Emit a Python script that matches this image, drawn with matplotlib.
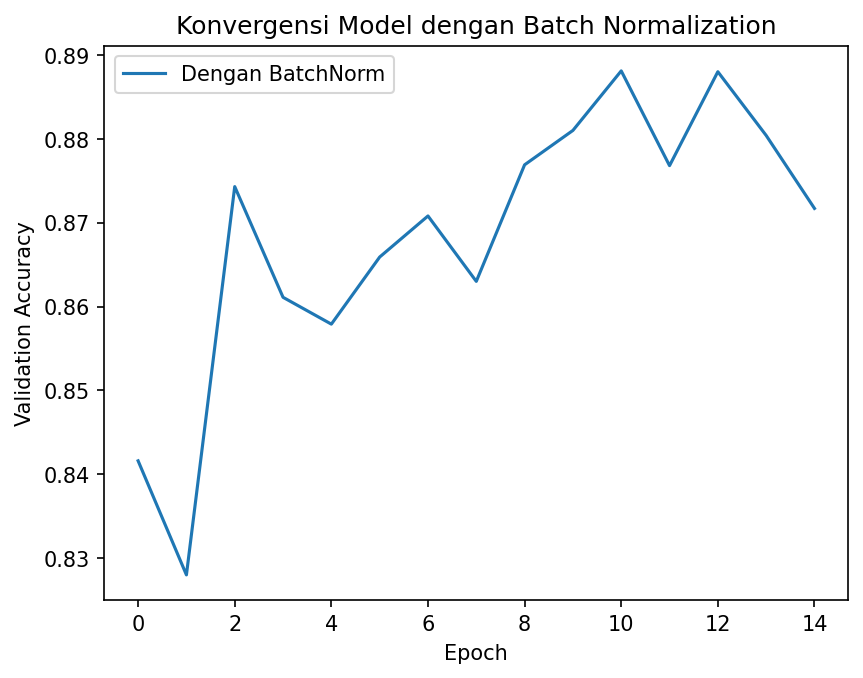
import matplotlib
matplotlib.use('Agg')
from matplotlib import pyplot as plt

epochs = list(range(15))
val_acc = [0.8416, 0.8280, 0.8743, 0.8611, 0.8579, 0.8659, 0.8708, 0.8630,
           0.8769, 0.8810, 0.8881, 0.8768, 0.8880, 0.8804, 0.8717]

fig, ax = plt.subplots(figsize=(6.4, 4.8))
ax.plot(epochs, val_acc, label='Dengan BatchNorm')
ax.set_title('Konvergensi Model dengan Batch Normalization')
ax.set_xlabel('Epoch')
ax.set_ylabel('Validation Accuracy')
ax.legend(loc='upper left')
fig.savefig('out.png', dpi=150, bbox_inches='tight')
